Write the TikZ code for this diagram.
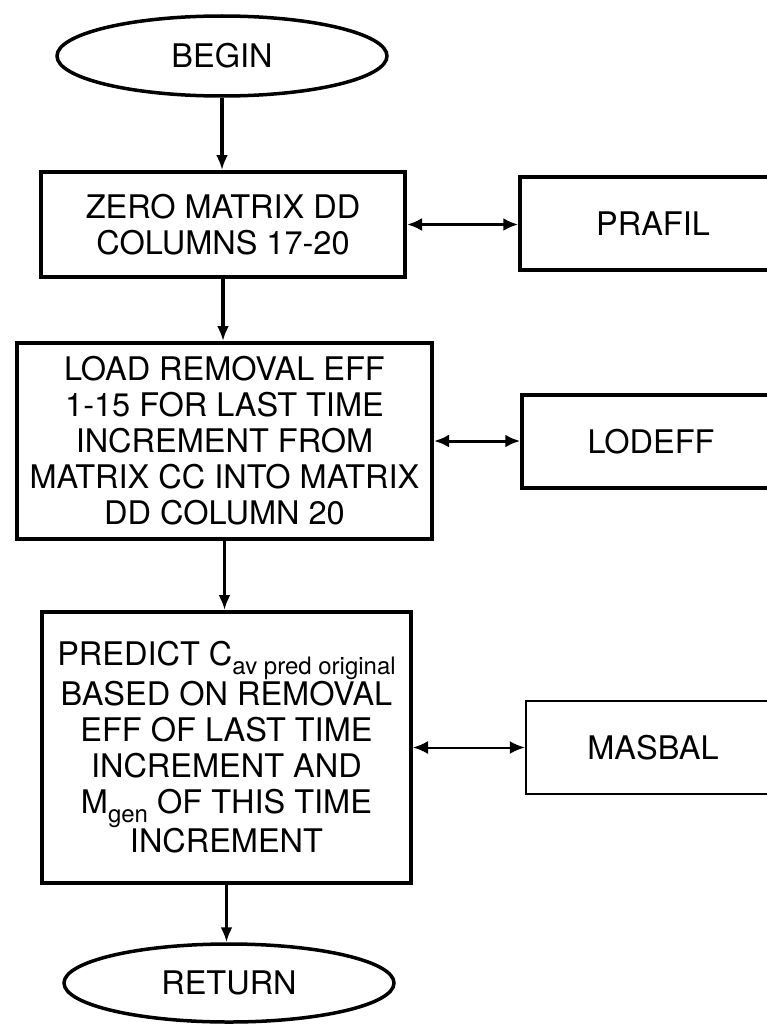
\documentclass[tikz,border=0pt]{standalone}
\usepackage{fontspec}
\setmainfont{TeX Gyre Heros}
\usetikzlibrary{shapes.geometric,arrows.meta}
% small lowered label used for subscripts inside the boxes
\newcommand{\lowtext}[1]{\raisebox{-9pt}{\fontsize{24}{24}\selectfont #1}}
\begin{document}
\begin{tikzpicture}[x=1pt,y=-1pt,
  every node/.style={font=\fontsize{32.5}{36}\selectfont},
  proc/.style={draw,line width=4pt,align=center,inner sep=0pt},
  term/.style={draw,ellipse,line width=3.5pt,inner sep=0pt},
  side/.style={draw,line width=3.5pt,inner sep=0pt},
  tip/.style={Latex[length=15pt,width=13pt]},
  flow/.style={line width=3.5pt,-{Latex[length=15pt,width=12pt]}},
  link/.style={line width=3pt,{Latex[length=15pt,width=13pt]}-{Latex[length=15pt,width=13pt]}}]
\fill[white] (0,0) rectangle (767,1025);
\clip (0,0) rectangle (767,1025);

% main column
\node[term,minimum width=330pt,minimum height=80pt] (begin) at (222,56) {BEGIN};
\node[proc,minimum width=364pt,minimum height=105pt] (zero) at (223,224.5)
  {ZERO MATRIX DD\\COLUMNS 17-20};
\node[proc,minimum width=415pt,minimum height=196pt] (load) at (224.5,441)
  {LOAD REMOVAL EFF\\1-15 FOR LAST TIME\\INCREMENT FROM\\MATRIX CC INTO MATRIX\\DD COLUMN 20};
\node[proc,minimum width=369pt,minimum height=271pt] (pred) at (226.5,747.5)
  {PREDICT C\lowtext{av pred original}\\BASED ON REMOVAL\\EFF OF LAST TIME\\INCREMENT AND\\M\lowtext{gen} OF THIS TIME\\INCREMENT};
\node[term,minimum width=330pt,minimum height=78pt] (ret) at (229,983) {RETURN};

% subroutines on the right
\node[side,minimum width=266pt,minimum height=93pt] (prafil) at (653,223.5) {PRAFIL};
\node[side,minimum width=258pt,minimum height=93pt] (lodeff) at (651,441.5) {LODEFF};
\node[side,line width=2.5pt,minimum width=254pt,minimum height=93pt] (masbal) at (653,747.5) {MASBAL};

% flow down the column
\draw[flow] (begin.south) -- (begin.south |- zero.north);
\draw[flow] (zero.south) -- (zero.south |- load.north);
\draw[flow] (load.south) -- (load.south |- pred.north);
\draw[flow] (pred.south) -- (pred.south |- ret.north);

% calls to the subroutines
\draw[link] (zero.east) -- (zero.east -| prafil.west);
\draw[link] (load.east) -- (load.east -| lodeff.west);
\draw[link,line width=2pt] (pred.east) -- (pred.east -| masbal.west);
\end{tikzpicture}
\end{document}
